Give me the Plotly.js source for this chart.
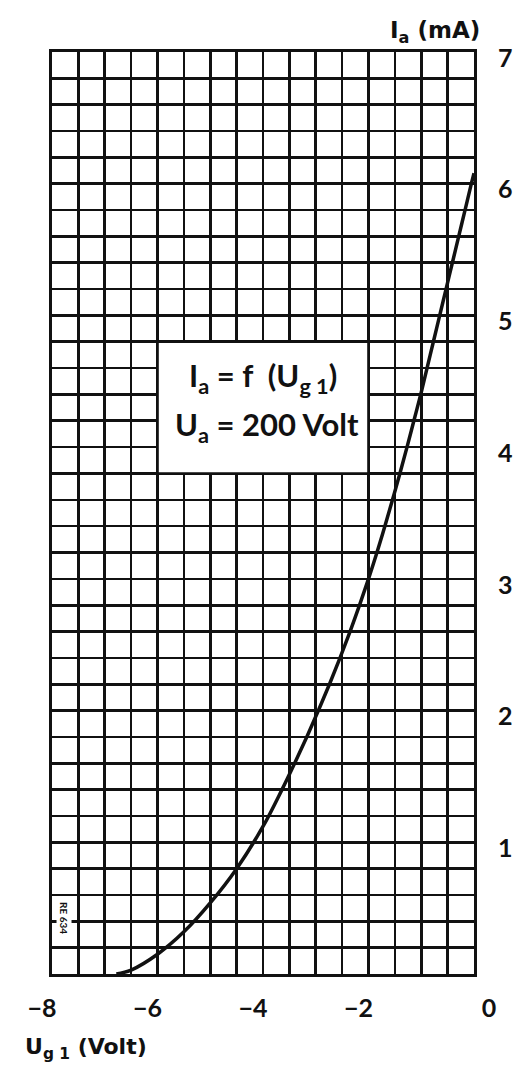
<!DOCTYPE html>
<html><head><meta charset="utf-8">
<script src="https://cdn.plot.ly/plotly-3.0.1.min.js"></script>
<style>html,body{margin:0;padding:0;background:#fff}</style>
</head><body>
<div id="chart" style="width:513px;height:1073px"></div>
<script>
// Ia = f(Ug1) at Ua = 200 V
const gridVoltage = [-6.78, -6.5, -6.0, -5.5, -5.0, -4.5, -4.0, -3.64, -3.40, -3.17, -2.95, -2.74, -2.54, -2.35, -2.17, -2.00, -1.84, -1.69, -1.545, -1.405, -1.27, -1.14, -1.01, -0.89, -0.77, -0.65, -0.53, -0.41, -0.29, -0.17, -0.05, 0.0];
const anodeCurrent = [0.0, 0.03, 0.15, 0.32, 0.54, 0.80, 1.12, 1.4, 1.6, 1.8, 2.0, 2.2, 2.4, 2.6, 2.8, 3.0, 3.2, 3.4, 3.6, 3.8, 4.0, 4.2, 4.4, 4.6, 4.8, 5.0, 5.2, 5.4, 5.6, 5.8, 6.0, 6.08];

const xTickVals = [-8, -6, -4, -2, 0];
const xTickText = ['\u22128', '\u22126', '\u22124', '\u22122', '\u2003\u2003\u20020'];
const yTickVals = [1, 2, 3, 4, 5, 6, 7];
const yTickText = ['1', '2', '3', '4', '5', '6', '7'];

const boxX = [-6, -2];
const boxY = [3.8, 4.8];
const boxLine1 = 'I<sub>a</sub> = f  (U<sub>g 1</sub>)';
const boxLine2 = 'U<sub>a</sub> = 200 Volt';
const yTitle = 'I<sub>a</sub> (mA)';
const xTitle = 'U<sub>g 1</sub> (Volt)';
const drawingCode = 'RE 634';

const ink = '#111111';
const fontFam = 'Lato, "DejaVu Sans", sans-serif';
const titleFam = '"DejaVu Sans", sans-serif';

const trace = {
  x: gridVoltage, y: anodeCurrent, type: 'scatter', mode: 'lines',
  line: {color: ink, width: 3.5, shape: 'spline', smoothing: 1},
  hoverinfo: 'skip'
};

const layout = {
  width: 513, height: 1073,
  margin: {l: 52, r: 39, t: 52, b: 99},
  paper_bgcolor: '#fff', plot_bgcolor: '#fff',
  showlegend: false,
  font: {family: fontFam, color: ink},
  xaxis: {
    range: [-8, 0], tickmode: 'array', tickvals: xTickVals, ticktext: xTickText,
    ticks: '', ticklabelstandoff: 10, ticklabelshift: -10,
    tickfont: {size: 25, family: fontFam, color: ink, weight: 'bold'},
    showgrid: true, gridcolor: ink, gridwidth: 2.6,
    minor: {tickmode: 'linear', tick0: 0, dtick: 0.5, showgrid: true, gridcolor: ink, gridwidth: 2.6, ticks: ''},
    showline: true, mirror: true, linecolor: ink, linewidth: 3, zeroline: false, fixedrange: true
  },
  yaxis: {
    range: [0, 7], side: 'right', tickmode: 'array', tickvals: yTickVals, ticktext: yTickText,
    ticks: '', ticklabelstandoff: 16, ticklabelshift: 6,
    tickfont: {size: 25, family: fontFam, color: ink, weight: 'bold'},
    showgrid: true, gridcolor: ink, gridwidth: 2.6,
    minor: {tickmode: 'linear', tick0: 0, dtick: 0.2, showgrid: true, gridcolor: ink, gridwidth: 2.6, ticks: ''},
    showline: true, mirror: true, linecolor: ink, linewidth: 3, zeroline: false, fixedrange: true
  },
  shapes: [{
    type: 'rect', xref: 'x', yref: 'y', x0: boxX[0], x1: boxX[1], y0: boxY[0], y1: boxY[1],
    fillcolor: '#fff', line: {color: ink, width: 2.6}, layer: 'above'
  }],
  annotations: [
    {xref: 'x', yref: 'y', x: (boxX[0] + boxX[1]) / 2, y: boxY[1] - 0.27, text: boxLine1, showarrow: false,
     xanchor: 'center', yanchor: 'middle', font: {size: 31, family: fontFam, color: ink, weight: 'bold'}},
    {xref: 'x', yref: 'y', x: (boxX[0] + boxX[1]) / 2 + 0.07, y: boxY[0] + 0.36, text: boxLine2, showarrow: false,
     xanchor: 'center', yanchor: 'middle', font: {size: 31, family: fontFam, color: ink, weight: 'bold'}},
    {xref: 'paper', yref: 'paper', x: 1.019, y: 1.022, text: yTitle, showarrow: false,
     xanchor: 'right', yanchor: 'middle', font: {size: 23, family: titleFam, color: ink, weight: 'bold'}},
    {xref: 'paper', yref: 'paper', x: -0.069, y: -0.081, text: xTitle, showarrow: false,
     xanchor: 'left', yanchor: 'middle', font: {size: 22, family: titleFam, color: ink, weight: 'bold'}},
    {xref: 'paper', yref: 'paper', x: 0.0284, y: 0.0607, text: drawingCode, showarrow: false, textangle: 90,
     xanchor: 'center', yanchor: 'middle', bgcolor: '#fff', font: {size: 10, family: fontFam, color: ink, weight: 'bold'}}
  ]
};

Plotly.newPlot('chart', [trace], layout, {staticPlot: true, displayModeBar: false});
</script>
</body></html>
